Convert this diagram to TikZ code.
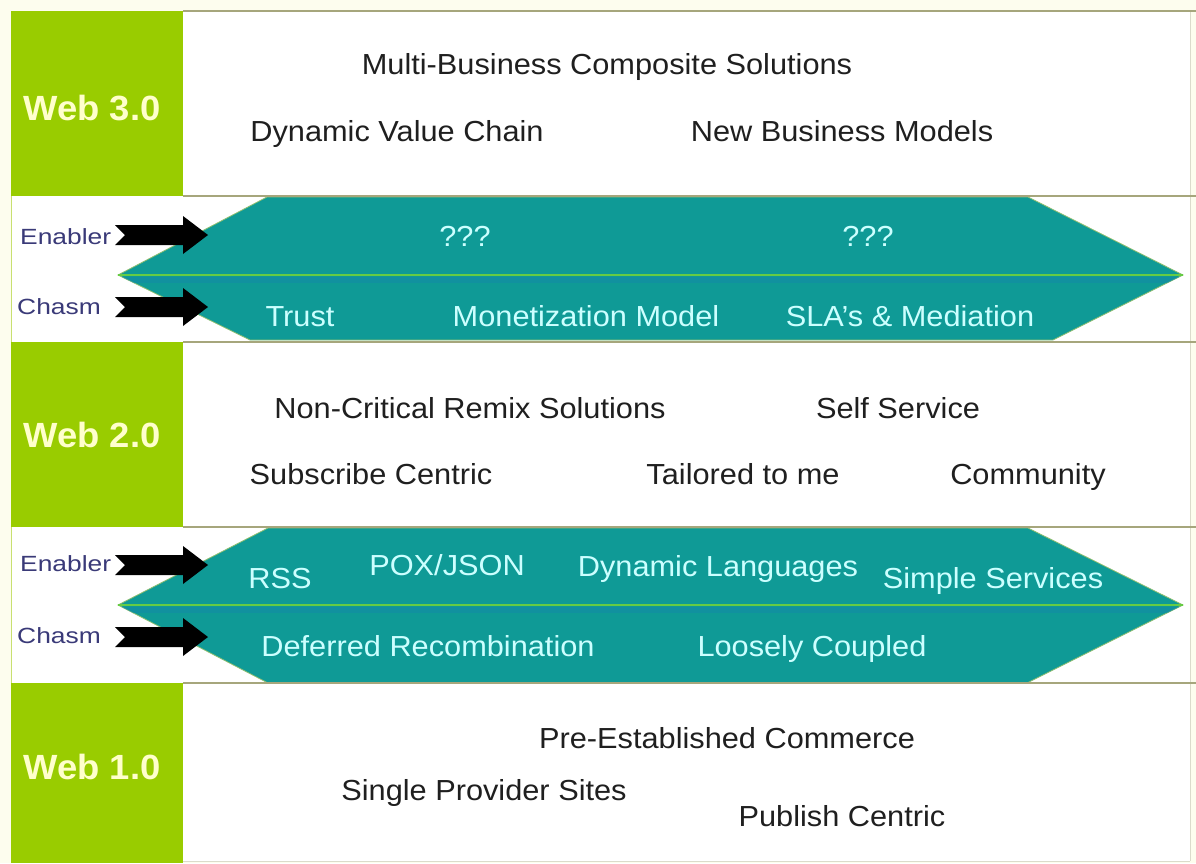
\documentclass[tikz,border=0pt]{standalone}
\usepackage{graphicx}
\usepackage{fontspec}
\setmainfont{Liberation Sans}
\definecolor{webgreen}{HTML}{99CC00}
\definecolor{webtext}{HTML}{FFFFCC}
\definecolor{teal1}{HTML}{0F9A96}
\definecolor{tealstrip}{HTML}{138CA6}
\definecolor{hextxt}{HTML}{CCFFFF}
\definecolor{midgreen}{HTML}{66CC44}
\definecolor{hexedge}{HTML}{8FBF70}
\definecolor{linecol}{HTML}{A6A67C}
\definecolor{sidecol}{HTML}{3A3A78}
\definecolor{bgcream}{HTML}{FDFDEE}
\definecolor{edgegreen}{HTML}{C8E070}
\newcommand\widetext[1]{\scalebox{1.06}[1]{#1}}
\newcommand\sidetext[1]{\scalebox{1.2}[1]{#1}}
\begin{document}
\begin{tikzpicture}[x=1pt,y=-1pt,
  rowline/.style={draw=linecol, line width=1.2pt},
  weblabel/.style={font=\fontsize{35}{40}\selectfont\bfseries, text=webtext, inner sep=0pt},
  plain/.style={font=\fontsize{29}{34}\selectfont, text=black!88, anchor=mid, inner sep=0pt, yshift=-6pt},
  hextext/.style={font=\fontsize{29}{34}\selectfont, text=hextxt, anchor=mid, inner sep=0pt, yshift=-6pt},
  side/.style={font=\fontsize{22}{26}\selectfont, text=sidecol, anchor=mid west, inner sep=0pt, yshift=-6pt},
  hexshape/.style={fill=teal1, draw=hexedge, line width=0.8pt},
  midline/.style={draw=midgreen, line width=1.8pt},
  blockarrow/.style={fill=black},
]
\useasboundingbox (0,0) rectangle (1196,863);
% background
\fill[bgcream] (0,0) rectangle (1196,863);
\fill[white] (11,11) rectangle (1190,861);
\draw[linecol!40, line width=0.8pt] (1190,11) -- (1190,861);
\draw[linecol!40, line width=0.8pt] (183,861) -- (1190,861);

% green row heads
\fill[webgreen] (11,11) rectangle (183,196);
\fill[webgreen] (11,342) rectangle (183,527);
\fill[webgreen] (11,683) rectangle (183,863);
\draw[edgegreen, line width=1pt] (11,196) -- (11,342);
\draw[edgegreen, line width=1pt] (11,527) -- (11,683);

% hexagon band 1
\fill[hexshape] (118,275) -- (267,197) -- (1028,197) -- (1183,275) -- (1053,340) -- (250,340) -- cycle;
\begin{scope}
  \clip (118,275) -- (267,197) -- (1028,197) -- (1183,275) -- (1053,340) -- (250,340) -- cycle;
  \fill[tealstrip, opacity=0.6] (100,277) rectangle (1200,283);
\end{scope}
\draw[midline] (118,275) -- (1183,275);

% hexagon band 2
\fill[hexshape] (118,605) -- (268,528) -- (1028,528) -- (1183,605) -- (1027,683) -- (268,683) -- cycle;
\begin{scope}
  \clip (118,605) -- (268,528) -- (1028,528) -- (1183,605) -- (1027,683) -- (268,683) -- cycle;
  \fill[tealstrip, opacity=0.6] (100,607) rectangle (1200,613);
\end{scope}
\draw[midline] (118,605) -- (1183,605);

% row lines
\draw[rowline] (183,11) -- (1196,11);
\draw[rowline] (183,196) -- (1196,196);
\draw[rowline] (183,342) -- (1196,342);
\draw[rowline] (183,527) -- (1196,527);
\draw[rowline] (183,683) -- (1196,683);

% block arrows
\foreach \yy in {235,307,565,637}{
  \fill[blockarrow, shift={(0,\yy)}] (115,-10) -- (183,-10) -- (183,-19) -- (208,0) -- (183,19) -- (183,10) -- (115,10) -- (125,0) -- cycle;
}

% side labels
\node[side] (en1) at (20,236) {\sidetext{Enabler}};
\node[side] (ch1) at (17,306) {\sidetext{Chasm}};
\node[side] (en2) at (20,563) {\sidetext{Enabler}};
\node[side] (ch2) at (17,635) {\sidetext{Chasm}};

% web labels
\node[weblabel] (w3) at (92,108) {\scalebox{1.04}[1]{Web 3.0}};
\node[weblabel] (w2) at (92,435) {\scalebox{1.04}[1]{Web 2.0}};
\node[weblabel] (w1) at (92,767) {\scalebox{1.04}[1]{Web 1.0}};

% Web 3.0 row
\node[plain] (mbcs) at (607,66) {\widetext{Multi-Business Composite Solutions}};
\node[plain] (dvc) at (397,133) {\widetext{Dynamic Value Chain}};
\node[plain] (nbm) at (842,133) {\widetext{New Business Models}};

% band 1
\node[hextext] (q1) at (465,238) {\widetext{???}};
\node[hextext] (q2) at (868,238) {\widetext{???}};
\node[hextext] (trust) at (300,318) {\widetext{Trust}};
\node[hextext] (mon) at (586,318) {\widetext{Monetization Model}};
\node[hextext] (sla) at (910,318) {\widetext{SLA’s \& Mediation}};

% Web 2.0 row
\node[plain] (ncrs) at (470,410) {\widetext{Non-Critical Remix Solutions}};
\node[plain] (ss) at (898,410) {\widetext{Self Service}};
\node[plain] (sc) at (371,476) {\widetext{Subscribe Centric}};
\node[plain] (ttm) at (743,476) {\widetext{Tailored to me}};
\node[plain] (com) at (1028,476) {\widetext{Community}};

% band 2
\node[hextext] (rss) at (280,580) {\widetext{RSS}};
\node[hextext] (pox) at (447,567) {\widetext{POX/JSON}};
\node[hextext] (dl) at (718,568) {\widetext{Dynamic Languages}};
\node[hextext] (simp) at (993,580) {\widetext{Simple Services}};
\node[hextext] (dr) at (428,648) {\widetext{Deferred Recombination}};
\node[hextext] (lc) at (812,648) {\widetext{Loosely Coupled}};

% Web 1.0 row
\node[plain] (pec) at (727,740) {\widetext{Pre-Established Commerce}};
\node[plain] (sps) at (484,792) {\widetext{Single Provider Sites}};
\node[plain] (pc) at (842,818) {\widetext{Publish Centric}};
\end{tikzpicture}
\end{document}
